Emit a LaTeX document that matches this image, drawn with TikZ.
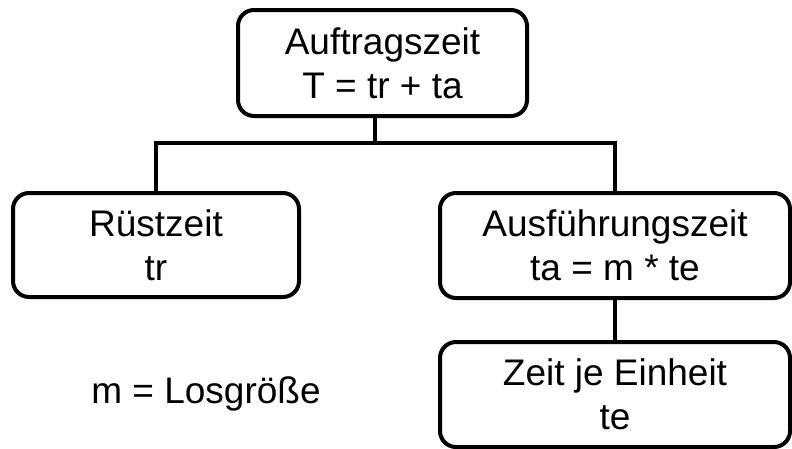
\documentclass[tikz,border=0pt]{standalone}
\usepackage{fontspec}
\setmainfont{Liberation Sans}
\begin{document}
\begin{tikzpicture}[x=1pt,y=-1pt,
  box/.style={draw=black, line width=4pt, rounded corners=16pt, fill=white,
    align=center, inner sep=0pt, font=\fontsize{37}{44}\selectfont},
  link/.style={draw=black, line width=4pt}]
  \useasboundingbox[fill=white] (0,0) rectangle (792,448);

  % boxes
  \node[box, minimum width=289pt, minimum height=106pt] (auftrag) at (382.5,63)
    {Auftragszeit\\T = tr + ta};
  \node[box, minimum width=286pt, minimum height=104pt] (ruest) at (156,245)
    {Rüstzeit\\tr};
  \node[box, minimum width=350pt, minimum height=105pt] (ausf) at (615,245.5)
    {Ausführungszeit\\ta = m * te};
  \node[box, minimum width=350pt, minimum height=105pt] (einheit) at (615,394.5)
    {Zeit je Einheit\\te};

  % legend
  \node[anchor=base, inner sep=0pt, font=\fontsize{37}{44}\selectfont] (legende) at (206,403)
    {m = Losgröße};

  % tree connectors
  \coordinate (hub) at (375,143);
  \draw[link] (auftrag.south -| hub) -- (hub);
  \draw[link] (ruest.north) |- (hub) -| (ausf.north);
  \draw[link] (ausf.south) -- (einheit.north);
\end{tikzpicture}
\end{document}
